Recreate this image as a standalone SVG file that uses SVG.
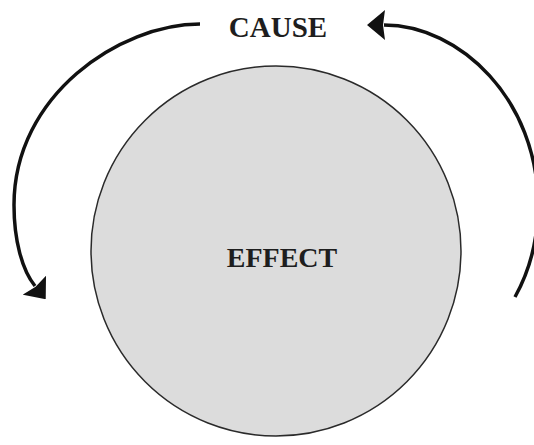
<svg xmlns="http://www.w3.org/2000/svg" width="534" height="445" viewBox="0 0 534 445">
  <style>
    .label { font-family: "Liberation Serif", "Times New Roman", serif; font-weight: bold; fill: #1e1e1e; text-anchor: middle; }
    .conn { fill: none; stroke: #111; stroke-width: 3.5; stroke-linecap: butt; }
  </style>
  <defs>
    <marker id="arrow" markerUnits="userSpaceOnUse" viewBox="0 0 18 30" markerWidth="18" markerHeight="30" refX="1" refY="15" orient="auto">
      <path d="M0,0 L18,15 L0,30 L2,15 Z" fill="#111"/>
    </marker>
  </defs>
  <rect width="534" height="445" fill="#ffffff"/>
  <g id="effect">
    <circle cx="276" cy="251" r="185" fill="#dcdcdc" stroke="#2a2a2a" stroke-width="1.5"/>
    <text class="label" x="282" y="267" font-size="28">EFFECT</text>
  </g>
  <g id="cause">
    <text class="label" x="278" y="37" font-size="29">CAUSE</text>
  </g>
  <g id="connectors">
    <path class="conn" d="M200,24 C120,24 14,95 14,205 C14,240 22,270 35,286" marker-end="url(#arrow)"/>
    <path class="conn" d="M515,297 C530,270 538,240 538,205 C538,100 460,25 384,25" marker-end="url(#arrow)"/>
  </g>
</svg>
